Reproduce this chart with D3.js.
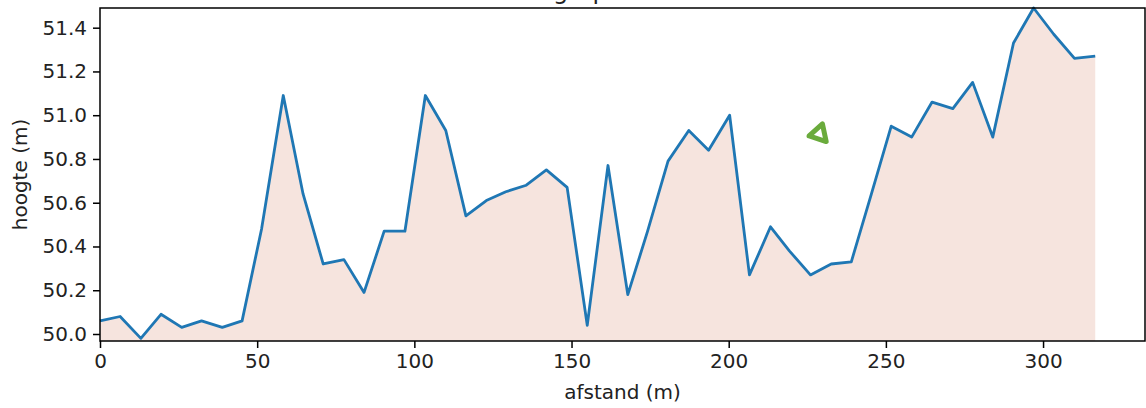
<!DOCTYPE html>
<html lang="nl">
  <head>
    <title>Hoogteprofiel</title>
    <meta charset="utf-8" />
    <script src="https://cdn.jsdelivr.net/npm/d3@7"></script>
    <style>
      body { margin: 0; background: #fff; }
    </style>
  </head>
  <body>
    <svg id="profiel" width="1146" height="408" viewBox="0 0 1146 408"></svg>
    <script>
      // afstand langs de route (m)
      const afstand = [0, 6.4, 13.0, 19.4, 26.0, 32.3, 38.9, 45.2, 51.4, 58.3,
        64.6, 71.0, 77.6, 84.0, 90.4, 97.0, 103.5, 110.0, 116.4, 122.9,
        129.1, 135.6, 142.0, 148.6, 155.0, 161.6, 167.9, 174.2, 180.7, 187.3,
        193.6, 200.3, 206.6, 213.3, 219.3, 226.0, 232.6, 239.0, 245.4, 251.7,
        258.2, 264.7, 271.3, 277.6, 284.0, 290.6, 297.0, 303.4, 310.0, 316.6];
      // hoogte (m)
      const hoogte = [50.06, 50.08, 49.98, 50.09, 50.03, 50.06, 50.03, 50.06, 50.48, 51.09,
        50.64, 50.32, 50.34, 50.19, 50.47, 50.47, 51.09, 50.93, 50.54, 50.61,
        50.65, 50.68, 50.75, 50.67, 50.04, 50.77, 50.18, 50.47, 50.79, 50.93,
        50.84, 51.00, 50.27, 50.49, 50.38, 50.27, 50.32, 50.33, 50.64, 50.95,
        50.90, 51.06, 51.03, 51.15, 50.90, 51.33, 51.49, 51.37, 51.26, 51.27];
      const xTicks = [0, 50, 100, 150, 200, 250, 300];
      const yTicks = [50.0, 50.2, 50.4, 50.6, 50.8, 51.0, 51.2, 51.4];
      // groene markering in het vlak
      const markering = { afstand: 228.8, hoogte: 50.915 };

      var margin = { top: 8, right: 1, bottom: 67, left: 100 };
      var svg = d3.select("#profiel").attr("font-family", "DejaVu Sans");
      var width = +svg.attr("width");
      var height = +svg.attr("height");
      var innerWidth = width - margin.left - margin.right;
      var innerHeight = height - margin.top - margin.bottom;

      var data = afstand.map((d, i) => ({ x: d, y: hoogte[i] }));

      var mainGroup = svg.append("g")
        .attr("transform", `translate(${margin.left}, ${margin.top})`);

      const xScale = d3.scaleLinear()
        .domain([0, d3.max(afstand) * 1.05])
        .range([0, innerWidth]);
      const yScale = d3.scaleLinear()
        .domain([d3.min(hoogte) - 0.012, d3.max(hoogte)])
        .range([innerHeight, 0]);

      // gevuld oppervlak onder het profiel
      mainGroup.append("path")
        .datum(data)
        .attr("fill", "#f6e4de")
        .attr("d", d3.area()
          .x(d => xScale(d.x))
          .y0(innerHeight)
          .y1(d => yScale(d.y)));

      mainGroup.append("path")
        .datum(data)
        .attr("fill", "none")
        .attr("stroke", "#1f77b4")
        .attr("stroke-width", 2.8)
        .attr("stroke-linejoin", "round")
        .attr("d", d3.line()
          .x(d => xScale(d.x))
          .y(d => yScale(d.y)));

      // groene markering
      mainGroup.append("path")
        .attr("d", d3.symbol(d3.symbolTriangle, 140)())
        .attr("transform", `translate(${xScale(markering.afstand)}, ${yScale(markering.hoogte)}) rotate(-102)`)
        .attr("fill", "none")
        .attr("stroke", "#6aab3c")
        .attr("stroke-width", 5)
        .attr("stroke-linejoin", "round");

      // kader
      mainGroup.append("rect")
        .attr("width", innerWidth)
        .attr("height", innerHeight)
        .attr("fill", "none")
        .attr("stroke", "#000")
        .attr("stroke-width", 1.5);

      // assen
      const xAxis = mainGroup.append("g")
        .attr("transform", `translate(0, ${innerHeight})`)
        .call(d3.axisBottom(xScale).tickValues(xTicks).tickFormat(d3.format("d"))
          .tickSize(7).tickPadding(6));
      const yAxis = mainGroup.append("g")
        .call(d3.axisLeft(yScale).tickValues(yTicks).tickFormat(d3.format(".1f"))
          .tickSize(7).tickPadding(6));

      [xAxis, yAxis].forEach(ax => {
        ax.select(".domain").remove();
        ax.selectAll("line").attr("stroke", "#000").attr("stroke-width", 1.5);
        ax.selectAll("text")
          .attr("fill", "#222")
          .attr("font-size", "20px")
          .attr("font-family", "DejaVu Sans");
      });

      // aslabels
      svg.append("text")
        .attr("x", margin.left + innerWidth / 2)
        .attr("y", 399)
        .attr("text-anchor", "middle")
        .attr("font-size", "20px")
        .attr("fill", "#222")
        .text("afstand (m)");

      svg.append("text")
        .attr("transform", `translate(27, ${margin.top + innerHeight / 2}) rotate(-90)`)
        .attr("text-anchor", "middle")
        .attr("font-size", "20px")
        .attr("fill", "#222")
        .text("hoogte (m)");

      // titel, grotendeels buiten beeld
      svg.append("text")
        .attr("x", margin.left + innerWidth / 2)
        .attr("y", -1)
        .attr("text-anchor", "middle")
        .attr("font-size", "24px")
        .attr("fill", "#222")
        .text("Hoogteprofiel route");
    </script>
  </body>
</html>
